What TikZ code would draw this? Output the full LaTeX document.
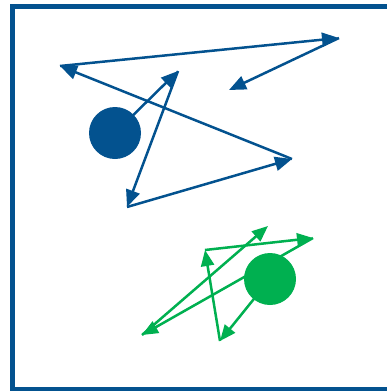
\documentclass[tikz,border=0pt]{standalone}
\usepackage{xcolor}
\usepackage{tikz}
\usetikzlibrary{arrows.meta}
\definecolor{walkblue}{HTML}{03528F}
\definecolor{walkgreen}{HTML}{00B050}

\begin{document}
\begin{tikzpicture}[
  x=1pt,y=-1pt,
  frame/.style={draw=walkblue,line width=5pt},
  bluestep/.style={-{Triangle[length=17pt,width=14pt]},line width=2.5pt,draw=walkblue},
  greenstep/.style={-{Triangle[length=16pt,width=13pt]},line width=2.5pt,draw=walkgreen},
  bluedot/.style={circle,fill=walkblue,inner sep=0pt,minimum size=52pt},
  greendot/.style={circle,fill=walkgreen,inner sep=0pt,minimum size=52pt}
]
\useasboundingbox (0,0) rectangle (387,391);
\draw[frame] (12.5,6) rectangle (400,389);

% blue walk
\coordinate (bstart) at (115,133);
\coordinate (b1) at (178,71);
\coordinate (b2) at (127,207);
\coordinate (b3) at (292,159);
\coordinate (b4) at (60,66);
\coordinate (b5) at (339,38);
\coordinate (b6) at (229,90);
\draw[bluestep] (bstart)--(b1); \draw[bluestep] (b1)--(b2); \draw[bluestep] (b2)--(b3);
\draw[bluestep] (b3)--(b4); \draw[bluestep] (b4)--(b5); \draw[bluestep] (b5)--(b6);
\node[bluedot] (bluestart) at (bstart) {};

% green walk
\coordinate (gstart) at (270,279);
\coordinate (g1) at (220,341);
\coordinate (g2) at (205,250);
\coordinate (g3) at (313,238);
\coordinate (g4) at (142,335);
\coordinate (g5) at (268,226);
\draw[greenstep] (gstart)--(g1); \draw[greenstep] (g1)--(g2); \draw[greenstep] (g2)--(g3);
\draw[greenstep] (g3)--(g4); \draw[greenstep] (g4)--(g5);
\node[greendot] (greenstart) at (gstart) {};
\end{tikzpicture}
\end{document}
